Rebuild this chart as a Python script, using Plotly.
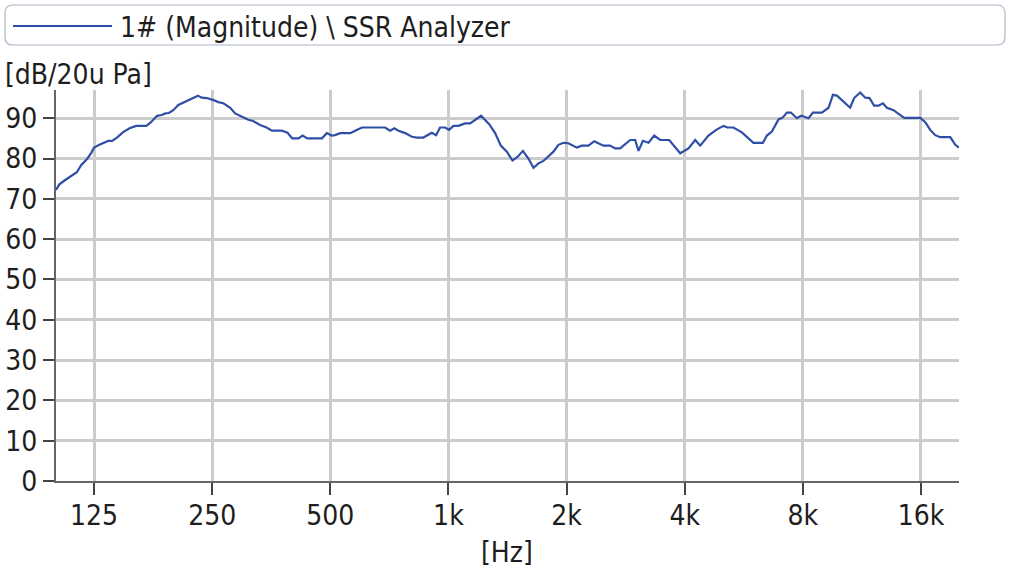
import plotly.graph_objects as go

# ---- data ----
freq_hz = [100, 102, 106, 111, 113, 116, 120, 123, 125, 129, 133, 136, 139, 143, 148, 154, 160, 170, 174, 181,
           186, 190, 194, 199, 205, 213, 222, 230, 235, 242, 252, 259, 267, 278, 286, 300, 309, 318, 331, 344,
           355, 376, 389, 400, 415, 425, 437, 476, 490, 504, 514, 530, 562, 584, 602, 690, 710, 728, 746, 776,
           807, 831, 863, 907, 930, 952, 981, 1004, 1030, 1060, 1103, 1136, 1211, 1270, 1315, 1360, 1409, 1456,
           1499, 1548, 1599, 1647, 1696, 1746, 1798, 1852, 1907, 1964, 2022, 2124, 2187, 2274, 2352, 2483, 2583,
           2660, 2739, 2905, 2991, 3050, 3130, 3234, 3344, 3464, 3652, 3896, 4090, 4254, 4381, 4599, 4812, 5022,
           5141, 5325, 5594, 5988, 6328, 6478, 6671, 6830, 6936, 7117, 7286, 7459, 7726, 7924, 8271, 8487, 8947,
           9300, 9545, 9772, 10160, 10560, 10810, 11200, 11540, 11830, 12160, 12470, 12800, 13100, 13620, 14030,
           14500, 15930, 16410, 16890, 17400, 17920, 19000, 19570, 20000]
magnitude_db = [72.2, 73.6, 74.8, 76.1, 76.6, 78.4, 79.9, 81.4, 82.7, 83.4, 83.9, 84.4, 84.4, 85.2, 86.5, 87.5, 88.1, 88.1, 88.9, 90.6,
                90.8, 91.2, 91.3, 92.0, 93.3, 94.0, 94.8, 95.6, 95.1, 95.0, 94.5, 94.0, 93.7, 92.6, 91.2, 90.2, 89.6, 89.3, 88.3, 87.7,
                86.9, 86.9, 86.4, 85.0, 85.0, 85.7, 85.0, 85.0, 86.3, 85.7, 85.8, 86.3, 86.3, 87.1, 87.7, 87.7, 86.9, 87.5, 86.9, 86.3,
                85.4, 85.2, 85.2, 86.4, 85.8, 87.7, 87.7, 87.1, 88.1, 88.1, 88.7, 88.7, 90.6, 88.5, 86.3, 83.2, 81.7, 79.5,
                80.4, 81.9, 80.0, 77.7, 78.8, 79.4, 80.6, 81.7, 83.4, 83.9, 83.8, 82.7, 83.2, 83.2, 84.3, 83.2, 83.2,
                82.5, 82.5, 84.6, 84.6, 81.9, 84.4, 83.9, 85.7, 84.6, 84.6, 81.3, 82.5, 84.6, 83.2, 85.7, 87.1, 88.1,
                87.7, 87.7, 86.5, 83.9, 83.9, 85.7, 86.7, 88.5, 89.7, 90.2, 91.4, 91.4, 90.0, 90.6, 90.0, 91.4, 91.4,
                92.6, 95.8, 95.6, 94.0, 92.6, 95.0, 96.4, 95.1, 95.0, 93.1, 93.1, 93.7, 92.6, 92.0, 91.2,
                90.1, 90.1, 89.0, 87.1, 85.8, 85.3, 85.3, 83.4, 82.7]

x_tick_vals = [125, 250, 500, 1000, 2000, 4000, 8000, 16000]
x_tick_text = ["125", "250", "500", "1k", "2k", "4k", "8k", "16k"]
y_tick_vals = [0, 10, 20, 30, 40, 50, 60, 70, 80, 90]

series_name = "1# (Magnitude) \\ SSR Analyzer"
y_title = "[dB/20u Pa]"
x_title = "[Hz]"

# ---- layout geometry (pixels) ----
W, H = 1009, 573
L, R, T, B = 56, 50, 90, 92
PW, PH = W - L - R, H - T - B

def px(x):
    return (x - L) / PW

def py(y):
    return (H - B - y) / PH

FONT = "DejaVu Sans Condensed, Liberation Sans Narrow, DejaVu Sans, sans-serif"
TXT = "#1e1e1e"
LINE = "#2f4fa6"

fig = go.Figure()
fig.add_trace(go.Scatter(x=freq_hz, y=magnitude_db, mode="lines", name=series_name,
                         line=dict(color=LINE, width=2.2), showlegend=False))

fig.update_layout(
    width=W, height=H,
    margin=dict(l=L, r=R, t=T, b=B, pad=0, autoexpand=False),
    paper_bgcolor="white", plot_bgcolor="white",
    font=dict(family=FONT, size=28, color=TXT),
    xaxis=dict(type="log", range=[2, 4.30103], tickvals=x_tick_vals, ticktext=x_tick_text,
               automargin=False,
               showgrid=True, gridcolor="#cccccc", gridwidth=2.5,
               showline=True, linecolor="#666666", linewidth=2,
               ticks="outside", ticklen=12, tickwidth=1.5, tickcolor="#444444",
               ticklabelstandoff=-4,
               tickfont=dict(family=FONT, size=28, color=TXT), zeroline=False),
    yaxis=dict(range=[0, 97], tickvals=y_tick_vals,
               automargin=False,
               showgrid=True, gridcolor="#cccccc", gridwidth=2.5,
               showline=True, linecolor="#666666", linewidth=2,
               ticks="outside", ticklen=11, tickwidth=1.5, tickcolor="#444444",
               tickfont=dict(family=FONT, size=28, color=TXT), zeroline=False),
    showlegend=False,
)

# custom legend box with rounded corners
x0, x1, y0, y1, r = 5, 1005, 5, 45, 8
path = (f"M {px(x0 + r)},{py(y0)} L {px(x1 - r)},{py(y0)} Q {px(x1)},{py(y0)} {px(x1)},{py(y0 + r)} "
        f"L {px(x1)},{py(y1 - r)} Q {px(x1)},{py(y1)} {px(x1 - r)},{py(y1)} "
        f"L {px(x0 + r)},{py(y1)} Q {px(x0)},{py(y1)} {px(x0)},{py(y1 - r)} "
        f"L {px(x0)},{py(y0 + r)} Q {px(x0)},{py(y0)} {px(x0 + r)},{py(y0)} Z")
fig.add_shape(type="path", path=path, xref="paper", yref="paper",
              line=dict(color="#a9b6c8", width=1.2), fillcolor="rgba(0,0,0,0)")
fig.add_shape(type="line", xref="paper", yref="paper", x0=px(13), x1=px(112), y0=py(26), y1=py(26),
              line=dict(color=LINE, width=2.2))
fig.add_annotation(text=series_name, xref="paper", yref="paper", x=px(118), y=py(27),
                   xanchor="left", yanchor="middle", showarrow=False,
                   font=dict(family=FONT, size=28, color=TXT))
fig.add_annotation(text=y_title, xref="paper", yref="paper", x=px(3), y=py(75),
                   xanchor="left", yanchor="middle", showarrow=False,
                   font=dict(family=FONT, size=28, color=TXT))
fig.add_annotation(text=x_title, xref="paper", yref="paper", x=px(507), y=py(552),
                   xanchor="center", yanchor="middle", showarrow=False,
                   font=dict(family=FONT, size=28, color=TXT))

fig.write_html("out.html", config={"displayModeBar": False},
               post_script="document.body.style.margin='0';document.body.style.overflow='hidden';")
